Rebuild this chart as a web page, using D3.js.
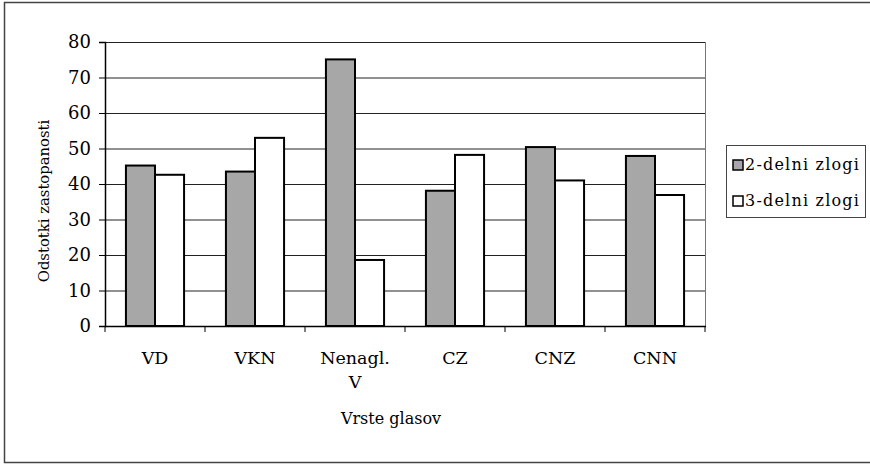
<!DOCTYPE html>
<html><head><meta charset="utf-8">
<script src="https://cdn.jsdelivr.net/npm/d3@7"></script>
<style>body{margin:0;background:#fff}svg{display:block}
svg text{font-family:"DejaVu Serif",serif;}
</style>
</head><body>
<svg id="c" width="870" height="465"></svg>
<script>
const categories = [["VD"],["VKN"],["Nenagl.","V"],["CZ"],["CNZ"],["CNN"]];
const seriesNames = ["2-delni zlogi","3-delni zlogi"];
const series2 = [45.2, 43.5, 75.1, 38.1, 50.4, 47.9];
const series3 = [42.6, 53.0, 18.6, 48.2, 41.0, 36.9];
const yTicks = [0,10,20,30,40,50,60,70,80];
const yTitle = "Odstotki zastopanosti";
const xTitle = "Vrste glasov";

const svg = d3.select("#c");
const L=105, R=705, T=42, B=326;
const fills = ["#a7a7a7","#ffffff"];

svg.append("rect").attr("x",4.5).attr("y",2.5).attr("width",900).attr("height",460)
  .attr("fill","none").attr("stroke","#444").attr("stroke-width",1.5);

const x0 = d3.scaleBand().domain(d3.range(categories.length)).range([L,R]).paddingInner(0).paddingOuter(0);
const x1 = d3.scaleBand().domain([0,1]).range([0,x0.bandwidth()]).paddingInner(0).paddingOuter(0.72);
const y = d3.scaleLinear().domain([0,80]).range([B,T]);

svg.append("g").selectAll("line").data(yTicks.filter(d=>d>0)).join("line")
  .attr("x1",L).attr("x2",R).attr("y1",d=>y(d)+0.5).attr("y2",d=>y(d)+0.5)
  .attr("stroke","#222").attr("stroke-width",1);
svg.append("line").attr("x1",R+0.5).attr("x2",R+0.5).attr("y1",T).attr("y2",B)
  .attr("stroke","#777").attr("stroke-width",1);

const data = categories.map((c,i)=>[series2[i],series3[i]]);
const g = svg.append("g");
data.forEach((vals,i)=>{
  g.selectAll(null).data(vals).join("rect")
    .attr("x",(d,j)=>x0(i)+x1(j))
    .attr("y",d=>y(d))
    .attr("width",x1.bandwidth())
    .attr("height",d=>B-y(d))
    .attr("fill",(d,j)=>fills[j])
    .attr("stroke","#000").attr("stroke-width",2);
});

const ya = svg.append("g").attr("transform",`translate(${L},0)`)
  .call(d3.axisLeft(y).tickValues(yTicks).tickSize(6).tickPadding(8));
ya.attr("font-family",null);
ya.select(".domain").attr("stroke","#000").attr("stroke-width",1.5);
ya.selectAll(".tick line").attr("stroke","#000");
ya.selectAll("text").attr("font-size",18).attr("fill","#000");

const xa = svg.append("g").attr("transform",`translate(0,${B})`);
xa.append("line").attr("x1",L).attr("x2",R+1).attr("y1",0.5).attr("y2",0.5).attr("stroke","#000").attr("stroke-width",1.5);
xa.selectAll("line.tk").data(d3.range(categories.length+1)).join("line").attr("class","tk")
  .attr("x1",d=>d<categories.length?x0(d):R).attr("x2",d=>d<categories.length?x0(d):R)
  .attr("y1",0).attr("y2",6).attr("stroke","#000");
xa.selectAll("text").data(categories).join("text")
  .attr("font-size",17.5).attr("text-anchor","middle").attr("fill","#000")
  .each(function(d,i){
    const t=d3.select(this);
    d.forEach((s,k)=>t.append("tspan").attr("x",x0(i)+x0.bandwidth()/2).attr("y",38+k*24).text(s));
  });

svg.append("text").attr("transform","translate(49,201) rotate(-90)")
  .attr("text-anchor","middle").attr("font-size",14.8)
  .attr("fill","#000").text(yTitle);
svg.append("text").attr("x",391).attr("y",424).attr("text-anchor","middle")
  .attr("font-size",16).attr("fill","#000").text(xTitle);

const lg = svg.append("g");
lg.append("rect").attr("x",726.5).attr("y",145.5).attr("width",139).attr("height",72)
  .attr("fill","#fff").attr("stroke","#444").attr("stroke-width",1);
seriesNames.forEach((n,i)=>{
  const yy = 160 + i*36;
  lg.append("rect").attr("x",733).attr("y",yy).attr("width",10).attr("height",10)
    .attr("fill",fills[i]).attr("stroke","#000").attr("stroke-width",1.5);
  lg.append("text").attr("x",745).attr("y",yy+10).attr("font-size",16)
    .attr("letter-spacing",1.2).attr("fill","#000").text(n);
});
</script>
</body></html>
